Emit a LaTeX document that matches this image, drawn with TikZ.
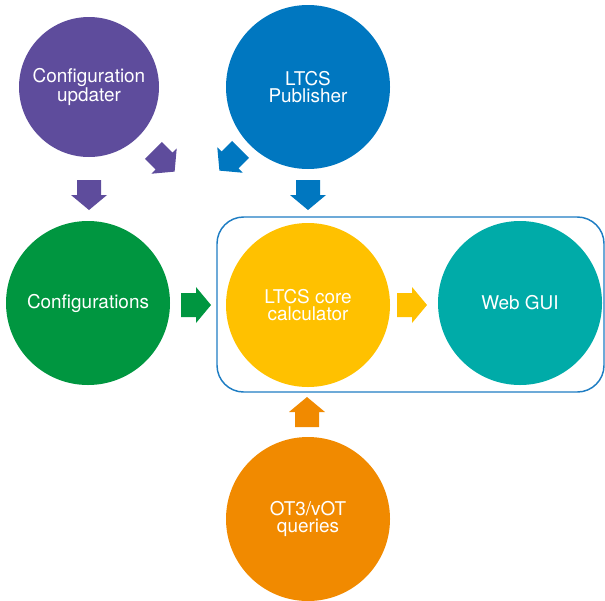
\documentclass[tikz,border=0pt]{standalone}
\usepackage{fontspec}
\setmainfont{TeX Gyre Heros}
\definecolor{cpurple}{RGB}{94,76,156}
\definecolor{cblue}{RGB}{0,119,192}
\definecolor{cgreen}{RGB}{0,150,64}
\definecolor{cyellow}{RGB}{255,193,0}
\definecolor{cteal}{RGB}{0,171,168}
\definecolor{corange}{RGB}{241,138,0}
\definecolor{cbox}{RGB}{30,125,195}
\newcommand\blockarrow[4]{%
  \fill[#4, shift={(#1,#2)}, rotate=#3] (-15,-12) -- (0,-12) -- (0,-18) -- (15,0) -- (0,18) -- (0,12) -- (-15,12) -- cycle;}
\begin{document}
\begin{tikzpicture}[x=0.75pt,y=-0.75pt,
  bubble/.style={circle, inner sep=0pt, text=white, align=center,
    font=\fontsize{14.2}{13.2}\selectfont},
  big/.style={bubble, minimum size=123pt},
  small/.style={bubble, minimum size=105pt}]
\useasboundingbox (0,0) rectangle (605,600);
\draw[cbox, line width=1.1pt, rounded corners=20pt] (217,217) rectangle (604,392);
\node[small, fill=cpurple] (upd) at (89,87) {Configuration\\updater};
\node[big, fill=cblue] (pub) at (308,87) {LTCS\\Publisher};
\node[big, fill=cgreen] (cfg) at (88,303) {Configurations};
\node[big, fill=cyellow] (core) at (308,305) {LTCS core\\calculator};
\node[big, fill=cteal] (web) at (520,303) {Web GUI};
\node[big, fill=corange] (ot) at (308,519) {OT3/vOT\\queries};
\blockarrow{89}{195}{-90}{cpurple}
\blockarrow{164}{161}{-45}{cpurple}
\blockarrow{230}{160}{-135}{cblue}
\blockarrow{308}{195}{-90}{cblue}
\blockarrow{196}{305}{0}{cgreen}
\blockarrow{412}{305}{0}{cyellow}
\blockarrow{307}{412}{90}{corange}
\end{tikzpicture}
\end{document}
